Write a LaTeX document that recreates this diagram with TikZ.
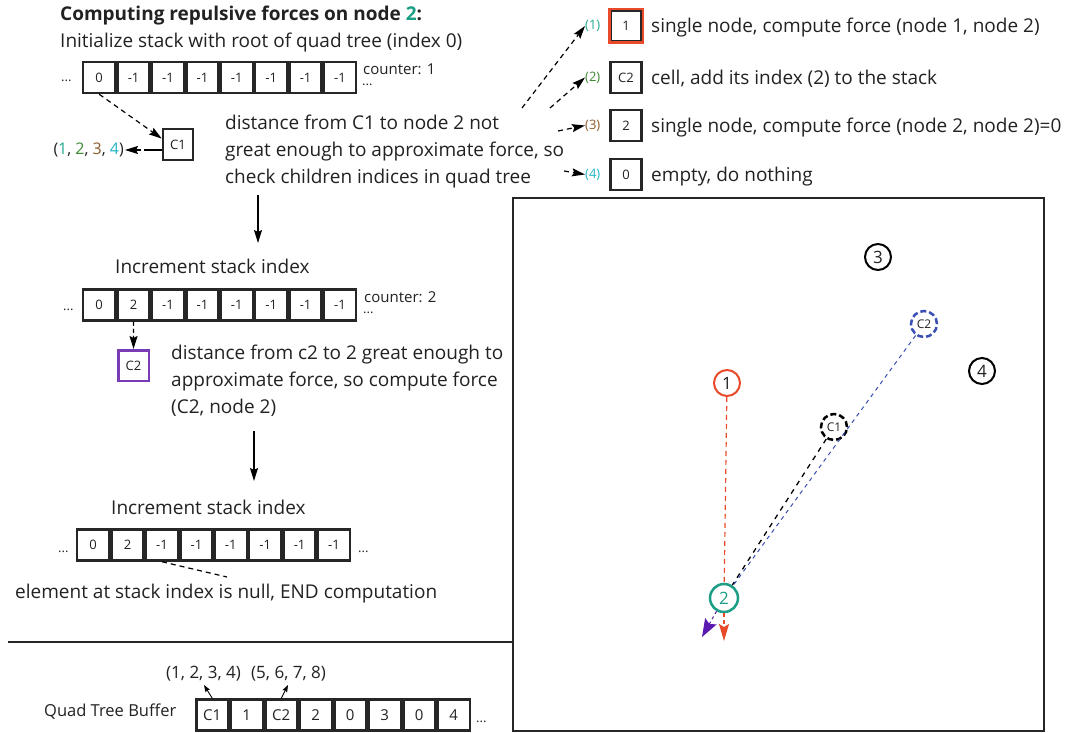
\documentclass[tikz,border=0pt]{standalone}
\usepackage{fontspec}
\setmainfont{Open Sans}
\usetikzlibrary{arrows.meta,calc}
\definecolor{textc}{HTML}{222222}
\definecolor{tealc}{HTML}{1A9E85}
\definecolor{lab1}{HTML}{23A890}
\definecolor{lab2}{HTML}{3F8A35}
\definecolor{lab3}{HTML}{8B5A2B}
\definecolor{lab4}{HTML}{21B6C6}
\definecolor{redc}{HTML}{E84A2A}
\definecolor{purpbox}{HTML}{7A3CB5}
\definecolor{purparr}{HTML}{5A1AB0}
\definecolor{bluec}{HTML}{3A4FB5}
\begin{document}
\begin{tikzpicture}[x=1pt,y=-1pt,
  txt/.style={inner sep=0pt, anchor=base west, font=\fontsize{19}{27}\selectfont, align=left, text=textc},
  small/.style={inner sep=0pt, anchor=base west, font=\fontsize{15}{17}\selectfont, text=textc},
  dots/.style={inner sep=0pt, anchor=base west, font=\fontsize{13}{15}\selectfont, text=textc},
  cell/.style={draw=black!85, line width=2.5pt, minimum width=32pt, minimum height=31pt, inner sep=0pt, font=\fontsize{13}{15}\selectfont, text=textc},
  bcell/.style={cell, font=\fontsize{15}{17}\selectfont},
  tip/.style={-{Stealth[length=13pt,width=8pt,inset=2pt]}},
  stip/.style={-{Stealth[length=7pt,width=5pt,inset=1pt]}},
  dline/.style={dashed, dash pattern=on 5pt off 4pt, line width=1.2pt},
  gnode/.style={circle, draw, line width=2pt, minimum size=26pt, inner sep=0pt, font=\fontsize{17}{19}\selectfont, text=textc},
  cnode/.style={circle, draw, line width=2.5pt, dash pattern=on 6pt off 3pt, minimum size=26pt, inner sep=0pt, font=\fontsize{12}{14}\selectfont, text=textc},
]
\useasboundingbox (0,0) rectangle (1069,733);
\fill[white] (0,0) rectangle (1069,733);

% ---------- step 1
\node[txt, font=\bfseries\fontsize{19}{27}\selectfont] (title) at (60,21) {Computing repulsive forces on node \textcolor{tealc}{2}:};
\node[txt] (init) at (60,48) {Initialize stack with root of quad tree (index 0)};
\node[dots] (ld1) at (61,82) {...};
\foreach \v [count=\i] in {0,-1,-1,-1,-1,-1,-1,-1}
  \node[cell] (sa\i) at ({99.2+34.4*(\i-1)},77.5) {\v};
\node[small] (cnt1) at (363,75) {counter: 1};
\node[dots] (rd1) at (362,86) {...};
\node[cell, line width=2pt, minimum width=30.5pt, minimum height=30.5pt] (c1) at (178,144.5) {C1};
\node[inner sep=0pt, anchor=east, font=\fontsize{16}{18}\selectfont, text=textc] (kids) at (124,150)
  {(\textcolor{lab1}{1}, \textcolor{lab2}{2}, \textcolor{lab3}{3}, \textcolor{lab4}{4})};
\draw[dline, tip] (sa1.south) -- (c1.160);
\draw[dashed, dash pattern=on 18pt off 3pt, line width=1.2pt, tip] (kids.east -| c1.west) -- ([xshift=1pt]kids.east);
\node[txt] (d1) at (225,183) {distance from C1 to node 2 not\\great enough to approximate force, so\\check children indices in quad tree};

% children list
\foreach \n/\c/\val/\y/\t in {1/lab1/1/26/{single node, compute force (node 1, node 2)},
                              2/lab2/C2/77.5/{cell, add its index (2) to the stack},
                              3/lab3/2/125.5/{single node, compute force (node 2, node 2)=0},
                              4/lab4/0/174.5/{empty, do nothing}} {
  \node[inner sep=0pt, anchor=west, font=\fontsize{13}{15}\selectfont, text=\c] (k\n) at (585,\y) {(\n)};
  \node[cell, minimum width=31pt, minimum height=31pt] (r\n) at (626,\y) {\val};
  \node[txt] (rt\n) at (651,\y+7) {\t};
}
\draw[redc, line width=2.5pt] (r1.north west) rectangle (r1.south east);
\coordinate (s1) at (522,108);
\coordinate (s2) at (550,108);
\coordinate (s3) at (558,131);
\coordinate (s4) at (564,171);
\draw[dline, tip] (s1) -- (k1.west);
\draw[dline, tip] (s2) -- (k2.west);
\draw[dline, tip] (s3) -- (k3.west);
\draw[dline, tip] (s4) -- (k4.west);

% arrow down 1
\coordinate (a1s) at (258,195);
\coordinate (a1e) at (258,243);
\draw[line width=1.3pt, tip] (a1s) -- (a1e);

% ---------- step 2
\node[txt] (inc1) at (115,273) {Increment stack index};
\node[dots] (ld2) at (63,310) {...};
\foreach \v [count=\i] in {0,2,-1,-1,-1,-1,-1,-1}
  \node[cell] (sb\i) at ({99.2+34.4*(\i-1)},305) {\v};
\node[small] (cnt2) at (364,302) {counter: 2};
\node[dots] (rd2) at (363,313) {...};
\node[cell, draw=purpbox, minimum width=30.5pt, minimum height=30.5pt] (c2) at (133.5,365.5) {C2};
\draw[dline, dash pattern=on 4pt off 3pt, tip] (sb2.south) -- (c2.north);
\node[txt] (d2) at (171,413) {distance from c2 to 2 great enough to\\approximate force, so compute force\\(C2, node 2)};

\coordinate (a2s) at (254,431);
\coordinate (a2e) at (254,481);
\draw[line width=1.3pt, tip] (a2s) -- (a2e);

% ---------- step 3
\node[txt] (inc2) at (111,514) {Increment stack index};
\node[dots] (ld3) at (58,552) {...};
\foreach \v [count=\i] in {0,2,-1,-1,-1,-1,-1,-1}
  \node[cell] (sc\i) at ({93.2+34.4*(\i-1)},545) {\v};
\node[dots] (rd3) at (358,552) {...};
\coordinate (endp) at (227,577);
\draw[dline] (sc3.south) -- (endp);
\node[txt] (endt) at (15,598) {element at stack index is null, END computation};

% separator
\coordinate (sepl) at (8,642);
\coordinate (sepr) at (513,642);
\draw[line width=1.3pt, black!85] (sepl) -- (sepr);

% ---------- quad tree buffer
\node[txt, font=\fontsize{16.5}{18}\selectfont] (qtb) at (44,716) {Quad Tree Buffer};
\foreach \v [count=\i] in {C1,1,C2,2,0,3,0,4}
  \node[bcell] (bf\i) at ({212.25+34.5*(\i-1)},715) {\v};
\node[dots] (rd4) at (476,722) {...};
\node[txt, font=\fontsize{17}{19}\selectfont] (q1) at (166,678) {(1, 2, 3, 4)};
\node[txt, font=\fontsize{17}{19}\selectfont] (q2) at (251,678) {(5, 6, 7, 8)};
\coordinate (q1e) at (204,685);
\coordinate (q2e) at (288,685);
\draw[line width=0.9pt, stip] (bf1.north) -- (q1e);
\draw[line width=0.9pt, stip] (bf3.north) -- (q2e);

% ---------- spatial view
\draw[line width=2.5pt, black!85] (513,198) rectangle (1044,731);
\node[gnode] (n3) at (878,257) {3};
\node[gnode] (n4) at (982,371) {4};
\node[gnode, draw=redc] (n1) at (727,383) {1};
\node[gnode, draw=tealc, text=tealc, line width=2.5pt, minimum size=28pt] (n2) at (724,598) {2};
\node[cnode, draw=bluec] (nc2) at (924,324) {C2};
\node[cnode, draw=black] (nc1) at (834,427) {C1};
\draw[dline, redc, dash pattern=on 5pt off 4pt] (n1) -- (n2);
\draw[dline, dash pattern=on 5pt off 5pt, line width=1.3pt] (nc1) -- (n2);
\draw[dline, bluec, dash pattern=on 4pt off 4pt, line width=1pt] (nc2) -- (n2);
\coordinate (fr) at (724,641);
\coordinate (fp) at (702,637);
\draw[dline, redc, dash pattern=on 4pt off 3pt, -{Stealth[length=17pt,width=10pt,inset=3pt]}] (n2) -- (fr);
\draw[dline, purparr, dash pattern=on 3pt off 3pt, line width=1pt, -{Stealth[length=18pt,width=13pt,inset=3pt]}] (n2) -- (fp);
\end{tikzpicture}
\end{document}
